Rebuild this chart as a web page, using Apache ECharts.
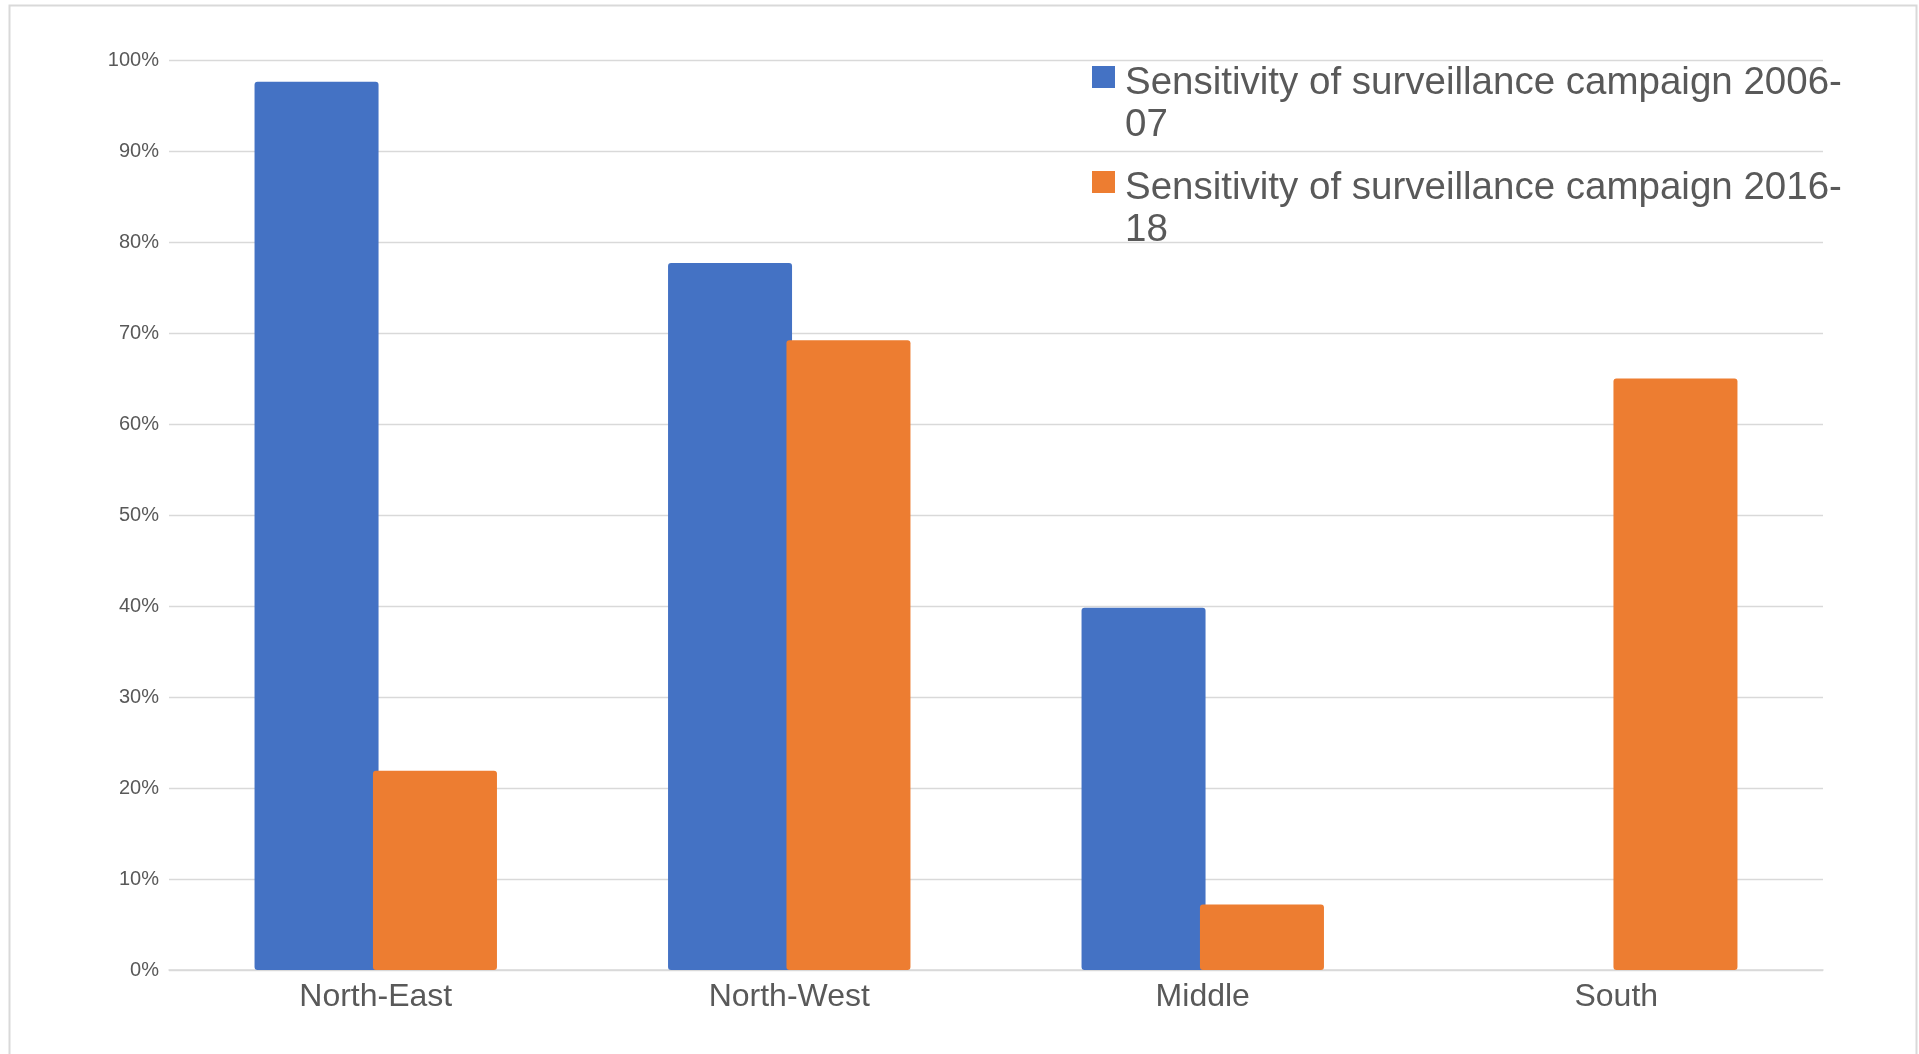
<!DOCTYPE html>
<html>
<head>
<meta charset="utf-8">
<script src="https://cdn.jsdelivr.net/npm/echarts@6/dist/echarts.min.js"></script>
<style>
html,body{margin:0;padding:0;background:#fff;}
#main{width:1919px;height:1054px;}
</style>
</head>
<body>
<div id="main"></div>
<script>
const categories = ['North-East', 'North-West', 'Middle', 'South'];
const seriesNames = ['Sensitivity of surveillance campaign 2006-07', 'Sensitivity of surveillance campaign 2016-18'];
const values2006 = [0.976, 0.777, 0.398, null];
const values2016 = [0.219, 0.692, 0.072, 0.650];
const yTicks = [0, 0.1, 0.2, 0.3, 0.4, 0.5, 0.6, 0.7, 0.8, 0.9, 1.0];

const colors = ['#4472C4', '#ED7D31'];
const FONT = '"Liberation Sans", Arial, sans-serif';
const LH = 42;
const LH0 = 54;

function legendFor(idx, iconCenter) {
  return {
    show: true,
    data: [seriesNames[idx]],
    orient: 'vertical',
    left: 1092,
    top: iconCenter - (LH0 + 2 * LH) / 2,
    padding: 0,
    itemWidth: 23,
    itemHeight: 22,
    icon: 'rect',
    selectedMode: false,
    formatter: function (name) {
      const cut = name.lastIndexOf('-');
      return '{s| }\n{t|' + name.slice(0, cut + 1) + '}\n{t|' + name.slice(cut + 1) + '}';
    },
    textStyle: {
      fontFamily: FONT,
      fontSize: 38.5,
      color: '#595959',
      lineHeight: LH,
      padding: [0, 0, 0, 5],
      rich: {
        s: {fontFamily: FONT, fontSize: 10, lineHeight: LH0},
        t: {fontFamily: FONT, fontSize: 38.5, color: '#595959', lineHeight: LH}
      }
    }
  };
}

const chart = echarts.init(document.getElementById('main'), null, {renderer: 'canvas'});
chart.setOption({
  backgroundColor: '#ffffff',
  animation: false,
  color: colors,
  graphic: [{
    type: 'rect',
    silent: true,
    z: -10,
    shape: {x: 9.5, y: 5.5, width: 1907, height: 1060},
    style: {fill: 'none', stroke: '#d9d9d9', lineWidth: 2}
  }],
  grid: {left: 169, right: 96, top: 60, bottom: 84, containLabel: false},
  legend: [legendFor(0, 77), legendFor(1, 182)],
  xAxis: {
    type: 'category',
    data: categories,
    axisTick: {show: false},
    axisLine: {show: true, lineStyle: {color: '#d9d9d9', width: 1.5}},
    axisLabel: {fontFamily: FONT, fontSize: 32, color: '#595959', margin: 11}
  },
  yAxis: {
    type: 'value',
    min: yTicks[0],
    max: yTicks[yTicks.length - 1],
    interval: 0.1,
    axisLine: {show: false},
    axisTick: {show: false},
    splitLine: {lineStyle: {color: '#d9d9d9', width: 1.3}},
    axisLabel: {
      fontFamily: FONT, fontSize: 20, color: '#595959', margin: 10,
      formatter: function (v) { return Math.round(v * 100) + '%'; }
    }
  },
  series: [
    {
      name: seriesNames[0], type: 'bar', data: values2006,
      barWidth: 124, barGap: '-4.5%',
      itemStyle: {color: colors[0], borderRadius: 3}
    },
    {
      name: seriesNames[1], type: 'bar', data: values2016,
      barWidth: 124, barGap: '-4.5%',
      itemStyle: {color: colors[1], borderRadius: 3}
    }
  ]
});
</script>
</body>
</html>
